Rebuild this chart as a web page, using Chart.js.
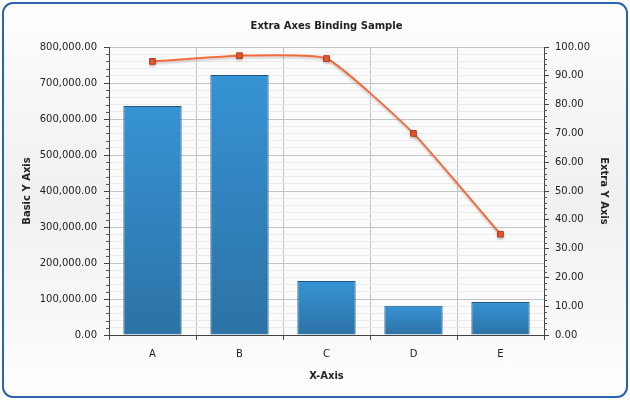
<!DOCTYPE html>
<html>
<head>
<meta charset="utf-8">
<script src="https://cdn.jsdelivr.net/npm/chart.js@4"></script>
<style>
  html, body { margin: 0; padding: 0; background: #fff; }
  #wrap { position: relative; width: 630px; height: 401px; }
  #frame {
    position: absolute; left: 2px; top: 2px; width: 626px; height: 396px;
    box-sizing: border-box; border: 2px solid #2a63ae; border-radius: 11px;
    background: linear-gradient(#ffffff 0%, #f6f6f6 25%, #f0f0f0 50%, #f8f8f8 80%, #ffffff 100%);
  }
  #chart { position: absolute; left: 0; top: 0; }
</style>
</head>
<body>
<div id="wrap">
  <div id="frame"></div>
  <canvas id="chart" width="630" height="401"></canvas>
</div>
<script>
const categories = ["A", "B", "C", "D", "E"];
const basicValues = [636000, 722000, 150000, 81000, 92000];
const extraValues = [95, 97, 96, 70, 35];
const basicMax = 800000;
const basicMajor = 100000;
const basicMinor = 20000;
const extraMax = 100;
const extraMajor = 10;
const extraMinor = 2;

Chart.defaults.font.family = "'DejaVu Sans', Verdana, sans-serif";
Chart.defaults.font.size = 10;
Chart.defaults.color = "#222";

const fmt = (v, d) => v.toLocaleString("en-US", { minimumFractionDigits: d, maximumFractionDigits: d });

// plot background, minor axis ticks and a soft shadow under the line
const extras = {
  id: "extras",
  beforeDraw(chart) {
    const { ctx, chartArea: a } = chart;
    ctx.save();
    ctx.fillStyle = "#fbfbfb";
    ctx.fillRect(a.left, a.top, a.right - a.left, a.bottom - a.top);
    ctx.restore();
  },
  beforeDatasetDraw(chart, args) {
    if (args.index !== 1) return;
    const ctx = chart.ctx;
    ctx.save();
    ctx.shadowColor = "rgba(0,0,0,0.18)";
    ctx.shadowOffsetY = 2;
    ctx.shadowBlur = 2;
  },
  afterDatasetDraw(chart, args) {
    if (args.index === 1) chart.ctx.restore();
  },
  afterDraw(chart) {
    const ctx = chart.ctx;
    const y = chart.scales.y, y2 = chart.scales.y2;
    ctx.save();
    ctx.strokeStyle = "#555";
    ctx.lineWidth = 1;
    ctx.beginPath();
    y.ticks.forEach(t => {
      if (t.value % basicMajor === 0) return;
      const p = Math.round(y.getPixelForValue(t.value)) + 0.5;
      ctx.moveTo(y.right - 3, p);
      ctx.lineTo(y.right, p);
    });
    y2.ticks.forEach(t => {
      if (t.value % extraMajor === 0) return;
      const p = Math.round(y2.getPixelForValue(t.value)) + 0.5;
      ctx.moveTo(y2.left, p);
      ctx.lineTo(y2.left + 3, p);
    });
    ctx.stroke();
    ctx.restore();
  }
};

function barFill(c) {
  const chart = c.chart;
  const y = chart.scales.y;
  if (!chart.chartArea || !y || c.raw == null) return "#3590d0";
  const top = y.getPixelForValue(c.raw);
  const bottom = y.getPixelForValue(0);
  if (!isFinite(top) || bottom - top < 1) return "#3590d0";
  const g = chart.ctx.createLinearGradient(0, top, 0, bottom);
  g.addColorStop(0, "#3693d4");
  g.addColorStop(1, "#2c72a5");
  return g;
}

new Chart(document.getElementById("chart"), {
  data: {
    labels: categories,
    datasets: [
      {
        type: "bar",
        data: basicValues,
        yAxisID: "y",
        backgroundColor: barFill,
        borderColor: "#1c5682",
        borderWidth: 1,
        barPercentage: 0.67,
        categoryPercentage: 1,
        order: 1
      },
      {
        type: "line",
        data: extraValues,
        yAxisID: "y2",
        borderColor: "#f26b3d",
        borderWidth: 2,
        tension: 0.15,
        pointStyle: "rect",
        pointRadius: 4,
        pointBackgroundColor: "#ee5b2c",
        pointBorderColor: "#b5381b",
        pointBorderWidth: 1,
        order: 0
      }
    ]
  },
  options: {
    responsive: false,
    animation: false,
    devicePixelRatio: 1,
    layout: { padding: { top: 10, left: 10, right: 10, bottom: 15 } },
    plugins: {
      legend: { display: false },
      tooltip: { enabled: false },
      title: {
        display: true,
        text: "Extra Axes Binding Sample",
        fullSize: false,
        font: { weight: "bold", size: 10 },
        color: "#222",
        padding: { top: 10, bottom: 15 }
      }
    },
    scales: {
      x: {
        grid: { offset: true, color: "#c4c4c4", tickColor: "#444", tickLength: 5 },
        border: { color: "#444" },
        ticks: { padding: 8 },
        title: { display: true, text: "X-Axis", font: { weight: "bold", size: 10 }, padding: { top: 10, bottom: 4 } },
        afterFit: s => { s.height = 51; }
      },
      y: {
        position: "left",
        min: 0,
        max: basicMax,
        ticks: {
          stepSize: basicMinor,
          autoSkip: false,
          padding: 7,
          callback: v => (v % basicMajor === 0 ? fmt(v, 2) : "")
        },
        grid: {
          color: c => (c.tick && c.tick.value % basicMajor === 0 ? "#c4c4c4" : "#ebebeb"),
          tickColor: c => (c.tick && c.tick.value % basicMajor === 0 ? "#444" : "rgba(0,0,0,0)"),
          tickLength: 5
        },
        border: { color: "#444" },
        title: { display: true, text: "Basic Y Axis", font: { weight: "bold", size: 10 }, padding: { top: 11, bottom: 0 } },
        afterFit: s => { s.width = 99; }
      },
      y2: {
        position: "right",
        min: 0,
        max: extraMax,
        ticks: {
          stepSize: extraMinor,
          autoSkip: false,
          padding: 6,
          callback: v => (v % extraMajor === 0 ? fmt(v, 2) : "")
        },
        grid: {
          drawOnChartArea: false,
          tickColor: c => (c.tick && c.tick.value % extraMajor === 0 ? "#444" : "rgba(0,0,0,0)"),
          tickLength: 5
        },
        border: { color: "#444" },
        title: { display: true, text: "Extra Y Axis", font: { weight: "bold", size: 10 }, padding: { top: 10, bottom: 4 } },
        afterFit: s => { s.width = 76; }
      }
    }
  },
  plugins: [extras]
});
</script>
</body>
</html>
